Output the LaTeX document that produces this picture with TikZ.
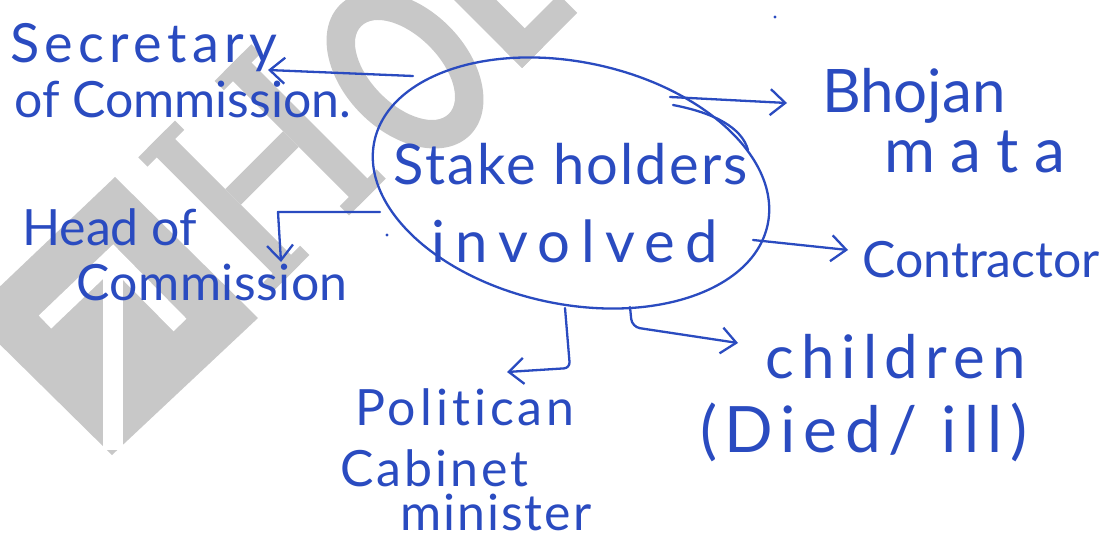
\documentclass[tikz,border=0pt]{standalone}
\usepackage{fontspec}
\setmainfont{Lato}
\usetikzlibrary{arrows.meta,shapes.geometric}
\definecolor{ink}{RGB}{42,75,192}
\definecolor{stampgrey}{RGB}{200,200,200}
\newfontfamily\hand{Lato}[Ligatures=NoCommon]
% letter-spaced word: \lsp{tracking}{text}
\newcommand\lsp[2]{{\addfontfeature{LetterSpace=#1}#2}}
% hand lettering at a given size
\newcommand\hs[1]{\hand\fontsize{#1}{#1}\selectfont}

\begin{document}
\begin{tikzpicture}[x=1pt,y=-1pt,
  pen/.style={draw=ink,line width=2.3pt,line cap=round,line join=round},
  penarrow/.style={pen,-{Straight Barb[length=15pt,width=26pt]}},
  lbl/.style={text=ink,inner sep=0pt,anchor=base west},
  stamp/.style={fill=stampgrey},
  hubshape/.style={ellipse,pen,minimum width=402pt,minimum height=242pt,inner sep=0pt}]

\useasboundingbox (0,0) rectangle (1107,540);
\fill[white] (0,0) rectangle (1107,540);

% light grey stamp in the background
\begin{scope}
  \clip (0,0) rectangle (1107,540);
  \path[stamp] (115,177) -- (258,318) -- (112,455) -- (-30,315) -- cycle;
  \draw[white,line width=18pt] (45,322) -- (113,257) -- (180,325);
  \draw[white,line width=20pt] (113,262) -- (113,450);
  % letter H
  \begin{scope}[shift={(262,168)},rotate=45]
    \path[stamp] (-67,-95) rectangle (-41,95);
    \path[stamp] (41,-95) rectangle (67,95);
    \path[stamp] (-41,-11) rectangle (41,11);
    \path[stamp] (-80,-95) rectangle (-28,-82);
    \path[stamp] (-80,95) rectangle (-28,82);
    \path[stamp] (28,-95) rectangle (80,-82);
    \path[stamp] (28,95) rectangle (80,82);
  \end{scope}
  % letter O
  \begin{scope}[shift={(405,70)},rotate=45]
    \path[stamp,even odd rule] (0,0) ellipse [x radius=62,y radius=92]
                               (0,0) ellipse [x radius=34,y radius=62];
  \end{scope}
  % letter L
  \begin{scope}[shift={(522,68)},rotate=45]
    \path[stamp] (0,0) rectangle (30,-220);
    \path[stamp] (0,0) rectangle (78,-26);
  \end{scope}
\end{scope}

% central ellipse
\node[hubshape,rotate=-12] (hub) at (571,183) {};
\node[text=ink,inner sep=0pt,anchor=base,font=\hs{56}] (hub1) at (571,185) {\lsp{4}{Stake holders}};
\node[text=ink,inner sep=0pt,anchor=base,font=\hs{58}] (hub2) at (575,262) {\lsp{18}{involved}};

% surrounding labels
\node[lbl,font=\hs{54}] (sec1) at (10,63) {\lsp{10}{Secretary}};
\node[lbl,font=\hs{50}] (sec2) at (14,118) {of Commission.};
\node[lbl,font=\hs{60}] (bhojan1) at (822,113) {Bhojan};
\node[lbl,font=\hs{62}] (bhojan2) at (884,172) {\lsp{25}{mata}};
\node[lbl,font=\hs{50}] (contractor) at (862,277) {Contractor};
\node[lbl,font=\hs{50}] (head1) at (22,245) {Head of};
\node[lbl,font=\hs{50}] (head2) at (76,300) {\lsp{1}{Commission}};
\node[lbl,font=\hs{50}] (pol1) at (355,425) {\lsp{8}{Politican}};
\node[lbl,font=\hs{50}] (pol2) at (340,486) {\lsp{6}{Cabinet}};
\node[lbl,font=\hs{50}] (pol3) at (400,530) {\lsp{4}{minister}};
\node[lbl,font=\hs{60}] (child1) at (765,378) {\lsp{12}{children}};
\node[lbl,font=\hs{64}] (child2) at (700,452) {\lsp{12}{(Died/ ill)}};

% stray pen dots
\fill[ink] (775,17) circle (1.6);
\fill[ink] (387,235) circle (1.6);

% connectors
\coordinate (s0) at (413,76);   \coordinate (s1) at (268,70);
\coordinate (b0) at (670,97);   \coordinate (b1) at (787,103);
\coordinate (k0) at (753,240);  \coordinate (k1) at (848,250);
\coordinate (h0) at (380,212);  \coordinate (h1) at (281,262);
\coordinate (p0) at (565,308);  \coordinate (p1) at (507,372);
\coordinate (c0) at (630,307);  \coordinate (c1) at (738,343);

\draw[penarrow] (s0) -- (s1);
\draw[penarrow] (b0) -- (b1);
\draw[pen] (673,105) .. controls (715,113) and (742,128) .. (748,150);
\draw[penarrow] (k0) -- (k1);
\draw[penarrow] (h0) -- (278,212) -- (h1);
\draw[penarrow,rounded corners=6pt] (p0) -- (570,368) -- (p1);
\draw[penarrow,rounded corners=8pt] (c0) -- (632,327) -- (c1);
\end{tikzpicture}
\end{document}
